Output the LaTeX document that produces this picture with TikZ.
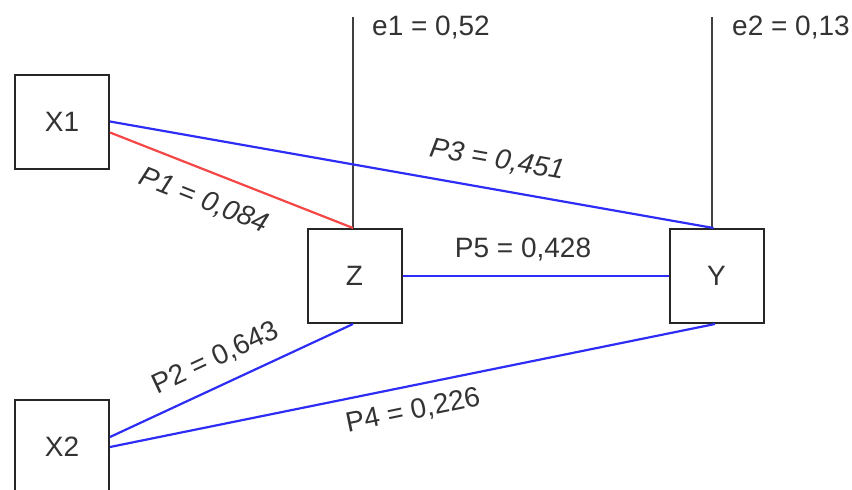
\documentclass[tikz,border=0pt]{standalone}
\usepackage{fontspec}
\setmainfont{Liberation Sans}
\definecolor{txt}{HTML}{333333}
\definecolor{pblue}{RGB}{45,45,245}
\definecolor{pred}{RGB}{245,70,70}
\begin{document}
\begin{tikzpicture}[x=1pt,y=-1pt,
  var/.style={draw=black!85, line width=2pt, minimum width=94pt, minimum height=94pt, inner sep=0pt, text=txt, font=\fontsize{28}{30}\selectfont},
  lbl/.style={text=txt, font=\fontsize{28}{30}\selectfont, inner sep=0pt},
  pb/.style={draw=pblue, line width=2.2pt},
  pr/.style={draw=pred, line width=2.2pt},
  err/.style={draw=black!75, line width=1.6pt}]
\useasboundingbox (0,0) rectangle (852,490);
\clip (0,0) rectangle (852,490);
\node[var] (X1) at (62,121.5) {X1};
\node[var] (X2) at (62,447) {X2};
\node[var] (Z) at (354.5,276) {Z};
\node[var] (Y) at (716.5,276) {Y};
\coordinate (e1top) at (353,17);
\coordinate (e2top) at (712,17);
\draw[err] (e1top) -- ([xshift=-1.5pt]Z.north);
\draw[err] (e2top) -- ([xshift=-4.5pt]Y.north);
\draw[pb] (X1.east) -- ([xshift=-3pt]Y.north);
\draw[pr] ([yshift=-11pt]X1.east) -- ([xshift=-1.5pt]Z.north);
\draw[pb] (Z.east) -- (Y.west);
\draw[pb] ([yshift=10pt]X2.east) -- ([xshift=-1.5pt]Z.south);
\draw[pb] (X2.east) -- ([xshift=-1.5pt]Y.south);
\node[lbl, anchor=west] (e1) at (372,28) {e1 = 0,52};
\node[lbl, anchor=west] (e2) at (732,28) {e2 = 0,13};
\node[lbl, rotate=-21.5, font=\fontsize{28}{30}\selectfont\itshape] (p1) at (204,201) {P1 = 0,084};
\node[lbl, rotate=-10, font=\fontsize{28}{30}\selectfont\itshape] (p3) at (497,160) {P3 = 0,451};
\node[lbl, rotate=25] (p2) at (216,358) {P2 = 0,643};
\node[lbl, rotate=11.6] (p4) at (413,411) {P4 = 0,226};
\node[lbl] (p5) at (523,250) {P5 = 0,428};
\end{tikzpicture}
\end{document}
